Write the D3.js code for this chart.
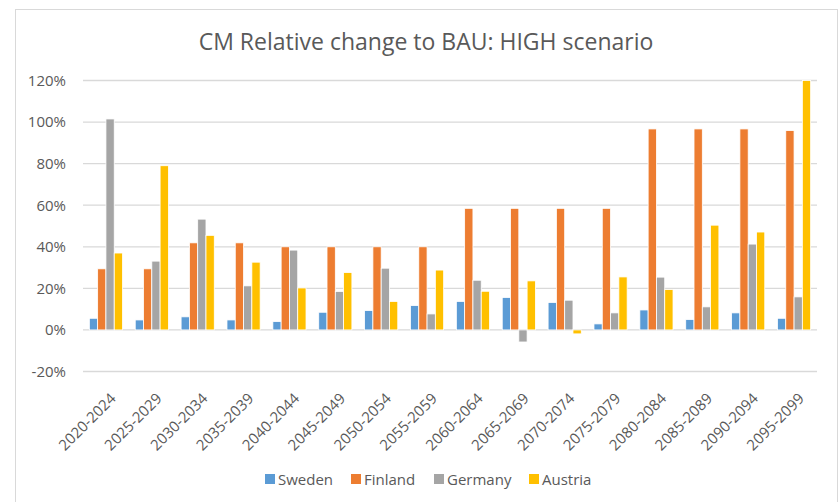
<!DOCTYPE html>
<html>
<head>
<meta charset="utf-8">
<script src="https://cdn.jsdelivr.net/npm/d3@7"></script>
<style>
  body { margin: 0; background: #fff; }
  text { font-family: "Open Sans", sans-serif; fill: #595959; }
</style>
</head>
<body>
<div class="chart"></div>
<script>
var periods = ["2020-2024", "2025-2029", "2030-2034", "2035-2039", "2040-2044", "2045-2049",
  "2050-2054", "2055-2059", "2060-2064", "2065-2069", "2070-2074", "2075-2079",
  "2080-2084", "2085-2089", "2090-2094", "2095-2099"];
var countries = ["Sweden", "Finland", "Germany", "Austria"];
var colors = ["#5B9BD5", "#ED7D31", "#A5A5A5", "#FFC000"];

// relative change in %, one array per country
var sweden = [5.6, 4.8, 6.3, 4.8, 4.0, 8.5, 9.3, 11.7, 13.7, 15.6, 13.2, 2.9, 9.6, 5.0, 8.2, 5.6];
var finland = [29.4, 29.4, 41.9, 41.9, 40.0, 40.0, 40.0, 40.0, 58.5, 58.5, 58.5, 58.5, 96.7, 96.7, 96.7, 95.9];
var germany = [101.5, 33.1, 53.3, 21.2, 38.4, 18.5, 29.7, 7.7, 23.9, -5.8, 14.3, 8.2, 25.4, 11.1, 41.3, 15.9];
var austria = [37.0, 79.0, 45.5, 32.6, 20.2, 27.6, 13.7, 28.8, 18.6, 23.6, -1.9, 25.5, 19.4, 50.4, 47.1, 120];
var yTicks = [-20, 0, 20, 40, 60, 80, 100, 120];

var series = [sweden, finland, germany, austria];

var W = 839, H = 502;
var margin = {top: 80.5, right: 22, bottom: 130.5, left: 83};
var width = W - margin.left - margin.right,
    height = H - margin.top - margin.bottom;

var svg = d3.select(".chart").append("svg")
  .attr("width", W)
  .attr("height", H);

// chart area border
svg.append("rect")
  .attr("x", 15.5).attr("y", 9.5)
  .attr("width", 822).attr("height", 500)
  .attr("fill", "none")
  .attr("stroke", "#D9D9D9")
  .attr("stroke-width", 1);

svg.append("text")
  .attr("x", 426).attr("y", 50)
  .attr("text-anchor", "middle")
  .style("font-size", "23px")
  .text("CM Relative change to BAU: HIGH scenario");

var chart = svg.append("g")
  .attr("transform", "translate(" + margin.left + "," + margin.top + ")");

var x0 = d3.scaleBand().domain(periods).range([0, width]).paddingInner(0.277).paddingOuter(0.1385);
var x1 = d3.scaleBand().domain(countries).range([0, x0.bandwidth()]);
var y = d3.scaleLinear().domain([-20, 120]).range([height, 0]);

// gridlines
chart.selectAll(".grid")
  .data(yTicks)
  .enter().append("line")
  .attr("x1", 0).attr("x2", width)
  .attr("y1", function(d) { return y(d); })
  .attr("y2", function(d) { return y(d); })
  .attr("stroke", "#D9D9D9")
  .attr("stroke-width", 1.3);

var yAxis = d3.axisLeft(y).tickValues(yTicks).tickSize(0).tickPadding(17)
  .tickFormat(function(d) { return d + "%"; });
var gy = chart.append("g").call(yAxis);
gy.select(".domain").remove();
gy.selectAll("text").style("font-size", "15px").style("font-family", "Open Sans").attr("fill", "#595959");

// bars
var groups = chart.selectAll(".group")
  .data(periods)
  .enter().append("g")
  .attr("transform", function(d) { return "translate(" + x0(d) + ",0)"; });

groups.selectAll("rect")
  .data(function(d, i) {
    return countries.map(function(c, j) { return {country: c, value: series[j][i], color: colors[j]}; });
  })
  .enter().append("rect")
  .attr("x", function(d) { return x1(d.country); })
  .attr("width", x1.bandwidth())
  .attr("y", function(d) { return y(Math.max(0, d.value)); })
  .attr("height", function(d) { return Math.abs(y(d.value) - y(0)); })
  .attr("fill", function(d) { return d.color; })
  .attr("stroke", "#fff")
  .attr("stroke-width", 0.8);

// x axis labels
var xAxis = d3.axisBottom(x0).tickSize(0).tickPadding(0);
var gx = chart.append("g")
  .attr("transform", "translate(0," + height + ")")
  .call(xAxis);
gx.select(".domain").remove();
gx.selectAll("text")
  .style("font-size", "15px")
  .style("font-family", "Open Sans")
  .attr("fill", "#595959")
  .attr("text-anchor", "end")
  .attr("dy", null)
  .attr("transform", "translate(11,28) rotate(-45)");

// legend
var legendX = [265, 351, 434, 529];
var legend = svg.append("g");
countries.forEach(function(c, i) {
  var g = legend.append("g").attr("transform", "translate(" + legendX[i] + ",474)");
  g.append("rect").attr("width", 10).attr("height", 10).attr("fill", colors[i]);
  g.append("text").attr("x", 13).attr("y", 10.5)
    .style("font-size", "15px")
    .text(c);
});
</script>
</body>
</html>
